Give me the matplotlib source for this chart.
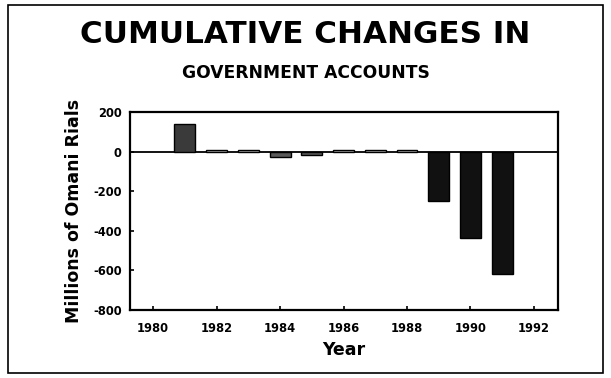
import matplotlib
matplotlib.use("Agg")
import matplotlib.pyplot as plt
from matplotlib.patches import Rectangle

plt.rcParams['font.family'] = ['DejaVu Sans']
plt.rcParams['font.weight'] = 'bold'
plt.rcParams['axes.unicode_minus'] = False

years = [1981, 1982, 1983, 1984, 1985, 1986, 1987, 1988, 1989, 1990, 1991]
changes = [140, 10, 10, -30, -20, 10, 10, 10, -250, -435, -620]
bar_colors = ['#3a3a3a', '#bdbdbd', '#bdbdbd', '#5a5a5a', '#5a5a5a',
              '#bdbdbd', '#bdbdbd', '#bdbdbd', '#111111', '#111111', '#111111']
xticks = [1980, 1982, 1984, 1986, 1988, 1990, 1992]
yticks = [200, 0, -200, -400, -600, -800]

fig = plt.figure(figsize=(6.11, 3.78), dpi=100)
ax = fig.add_axes([0.2128, 0.180, 0.700, 0.524])

ax.bar(years, changes, width=0.66, color=bar_colors, edgecolor='black',
       linewidth=1.0, zorder=3)
ax.axhline(0, color='black', linewidth=1.3, zorder=2)

ax.set_xlim(1979.27, 1992.75)
ax.set_ylim(-800, 200)
ax.set_xticks(xticks)
ax.set_yticks(yticks)
ax.tick_params(axis='both', labelsize=8.3, width=1.2, length=3,
               direction='in', pad=6)
ax.tick_params(axis='x', pad=9)
for lbl in ax.get_xticklabels() + ax.get_yticklabels():
    lbl.set_fontweight('bold')
for s in ax.spines.values():
    s.set_linewidth(1.6)

ax.set_xlabel('Year', fontsize=12.5, fontweight='bold', labelpad=4)
ax.set_ylabel('Millions of Omani Rials', fontsize=12.5, fontweight='bold',
              labelpad=7)

fig.text(0.5, 0.908, 'CUMULATIVE CHANGES IN', ha='center', va='center',
         fontsize=22.3, fontweight='bold')
fig.text(0.5, 0.808, 'GOVERNMENT ACCOUNTS', ha='center', va='center',
         fontsize=12.3, fontweight='bold')

fig.patches.append(Rectangle((0.013, 0.012), 0.974, 0.975,
                             transform=fig.transFigure, fill=False,
                             edgecolor='black', linewidth=1.2))

fig.savefig('out.png', dpi=100)
